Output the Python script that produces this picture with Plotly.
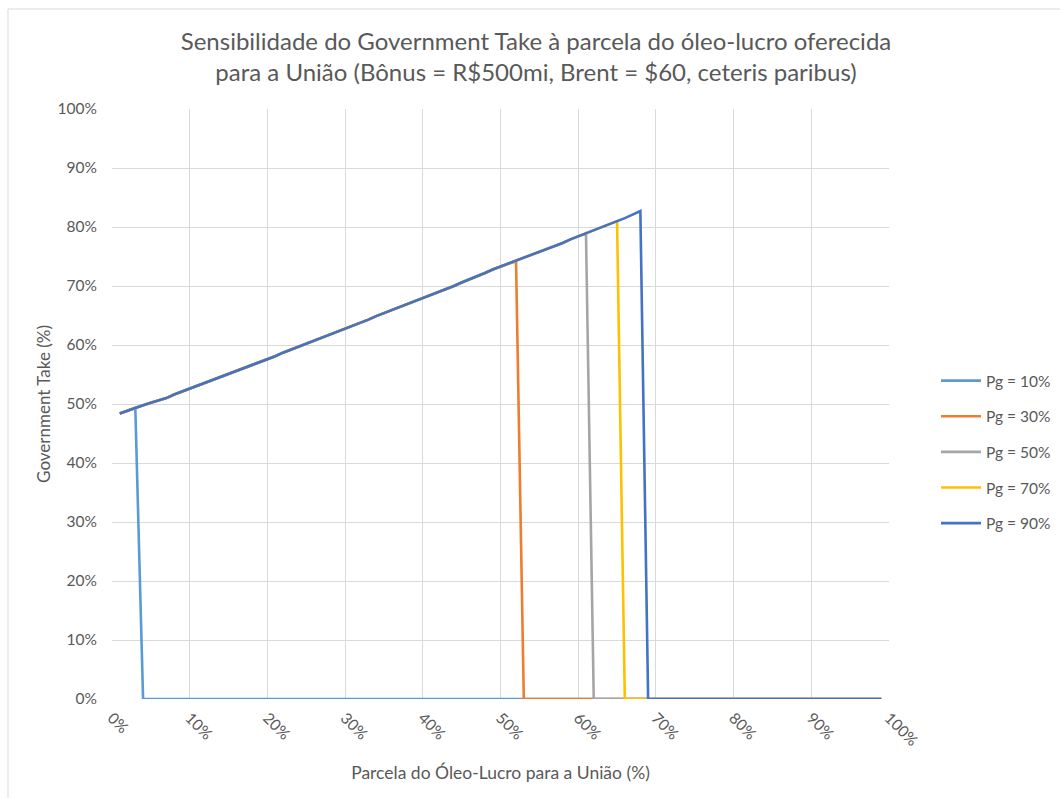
import plotly.graph_objects as go

# Parcela do óleo-lucro oferecida à União (%), passos de 1 p.p.
oil_profit_share = list(range(1, 100))

# Government Take (%) ao longo da curva, enquanto o contrato permanece viável
gt_curve = [
    48.4, 48.9, 49.4, 49.8, 50.2, 50.6, 51.0, 51.6, 52.1, 52.5,
    53.0, 53.5, 54.0, 54.6, 55.1, 55.6, 56.1, 56.6, 57.1, 57.6,
    58.1, 58.7, 59.2, 59.7, 60.2, 60.7, 61.3, 61.8, 62.3, 62.8,
    63.3, 63.8, 64.3, 64.9, 65.4, 65.9, 66.4, 66.9, 67.4, 67.9,
    68.4, 69.0, 69.5, 70.0, 70.6, 71.1, 71.7, 72.2, 72.8, 73.3,
    73.7, 74.2, 74.7, 75.2, 75.7, 76.2, 76.7, 77.3, 77.9, 78.4,
    78.9, 79.5, 80.0, 80.5, 81.0, 81.5, 82.1, 82.7,
]

# Cada série segue a curva até a última parcela viável e cai a zero depois
take_pg10 = gt_curve[:3] + [0.0] * 96
take_pg30 = gt_curve[:52] + [0.0] * 47
take_pg50 = gt_curve[:61] + [0.0] * 38
take_pg70 = gt_curve[:65] + [0.0] * 34
take_pg90 = gt_curve[:68] + [0.0] * 31

series_names = ["Pg = 10%", "Pg = 30%", "Pg = 50%", "Pg = 70%", "Pg = 90%"]
series_values = [take_pg10, take_pg30, take_pg50, take_pg70, take_pg90]
series_colors = ["#5B9BD5", "#ED7D31", "#A5A5A5", "#FFC000", "#4472C4"]

x_ticks = [0, 10, 20, 30, 40, 50, 60, 70, 80, 90, 100]
x_tick_labels = ["0%", "10%", "20%", "30%", "40%", "50%", "60%", "70%", "80%", "90%", "100%"]
y_ticks = [0, 10, 20, 30, 40, 50, 60, 70, 80, 90, 100]
y_tick_labels = ["0%", "10%", "20%", "30%", "40%", "50%", "60%", "70%", "80%", "90%", "100%"]

FONT = "Lato"
TEXT_GREY = "#595959"
GRID = "#D9D9D9"

fig = go.Figure()
for i, (name, vals, color) in enumerate(zip(series_names, series_values, series_colors)):
    fig.add_trace(go.Scatter(
        x=oil_profit_share,
        y=vals,
        mode="lines",
        name=name,
        legendgroup=f"g{i}",
        line=dict(color=color, width=2.6),
        hoverinfo="skip",
    ))

W, H = 1060, 798
L, R, T, B = 112, 889, 109, 699

fig.update_layout(
    width=W,
    height=H,
    margin=dict(l=L, r=W - R, t=T, b=H - B, autoexpand=False),
    paper_bgcolor="white",
    plot_bgcolor="white",
    font=dict(family=FONT, color=TEXT_GREY, size=15),
    title=dict(
        text="Sensibilidade do Government Take à parcela do óleo-lucro oferecida<br>"
             "para a União (Bônus = R$500mi, Brent = $60, ceteris paribus)",
        font=dict(family=FONT, size=24, color=TEXT_GREY),
        xref="container", x=536 / W, xanchor="center",
        yref="container", y=1 - 50 / H, yanchor="middle",
    ),
    xaxis=dict(
        range=[0, 100],
        tickmode="array",
        tickvals=x_ticks,
        ticktext=x_tick_labels,
        tickangle=45,
        tickfont=dict(family=FONT, size=15.5, color=TEXT_GREY),
        ticklabelstandoff=6,
        showgrid=True,
        gridcolor=GRID,
        gridwidth=1,
        zeroline=False,
        showline=False,
        ticks="",
        title=dict(text="Parcela do Óleo-Lucro para a União (%)",
                   font=dict(family=FONT, size=17.5, color=TEXT_GREY),
                   standoff=18),
        fixedrange=True,
    ),
    yaxis=dict(
        range=[0, 100],
        tickmode="array",
        tickvals=y_ticks,
        ticktext=y_tick_labels,
        tickfont=dict(family=FONT, size=15.5, color=TEXT_GREY),
        showgrid=True,
        gridcolor=GRID,
        gridwidth=1,
        zeroline=False,
        showline=False,
        ticks="",
        ticklabelstandoff=14,
        title=dict(text="Government Take (%)",
                   font=dict(family=FONT, size=17, color=TEXT_GREY),
                   standoff=2),
        fixedrange=True,
    ),
    legend=dict(
        x=(936 - L) / (R - L),
        xanchor="left",
        y=(B - 364) / (B - T),
        yanchor="top",
        font=dict(family=FONT, size=15.5, color=TEXT_GREY),
        tracegroupgap=12.5,
        itemwidth=40,
        bgcolor="rgba(0,0,0,0)",
    ),
    shapes=[
        # moldura da área do gráfico
        dict(type="rect", xref="paper", yref="paper",
             x0=(8 - L) / (R - L), x1=(W + 20 - L) / (R - L),
             y0=(B - (H + 20)) / (B - T), y1=(B - 9) / (B - T),
             line=dict(color="#D9D9D9", width=1), layer="below"),
    ],
)

fig.write_html("out.html")
